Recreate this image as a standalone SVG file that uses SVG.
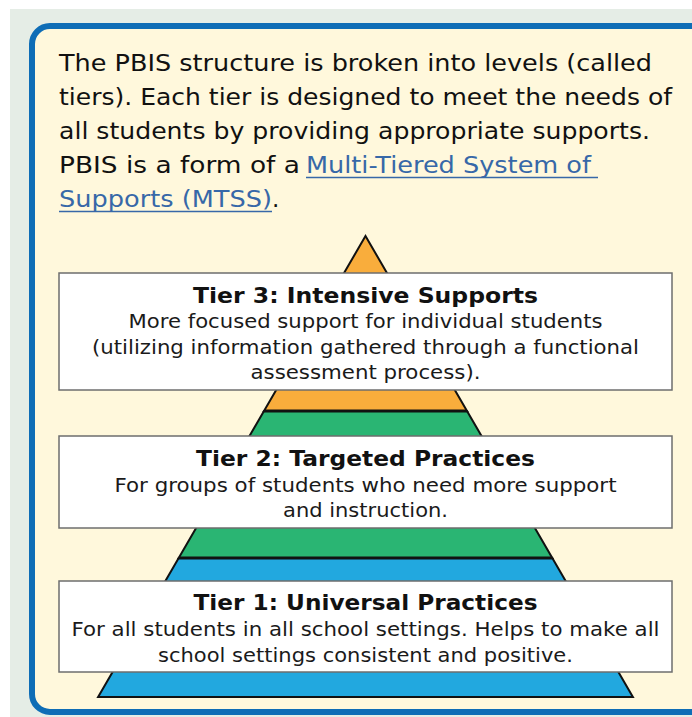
<svg xmlns="http://www.w3.org/2000/svg" width="692" height="717" viewBox="0 0 692 717">
  <style>
    text { font-family: "DejaVu Sans", Verdana, sans-serif; }
    .para { font-size: 23px; fill: #111; }
    .link { fill: #3768a8; }
    .title { font-size: 21.5px; font-weight: bold; fill: #111; text-anchor: middle; }
    .body { font-size: 19.5px; fill: #1a1a1a; text-anchor: middle; }
    .box { fill: #ffffff; stroke: #6e6e6e; stroke-width: 1.5; }
    .band { stroke: #111; stroke-width: 2; stroke-linejoin: miter; }
  </style>

  <!-- page backdrop -->
  <rect x="0" y="0" width="692" height="717" fill="#ffffff"/>
  <rect x="10" y="9" width="682" height="708" fill="#e5ede6"/>

  <!-- rounded panel -->
  <rect x="32" y="26" width="690" height="686" rx="18" ry="18" fill="#fff8dc" stroke="#0e6db6" stroke-width="6"/>

  <!-- intro paragraph -->
  <g id="intro">
    <text class="para" x="59" y="71" textLength="593" lengthAdjust="spacingAndGlyphs">The PBIS structure is broken into levels (called</text>
    <text class="para" x="59" y="105" textLength="613" lengthAdjust="spacingAndGlyphs">tiers). Each tier is designed to meet the needs of</text>
    <text class="para" x="59" y="139" textLength="591" lengthAdjust="spacingAndGlyphs">all students by providing appropriate supports.</text>
    <text class="para" x="59" y="173" textLength="241" lengthAdjust="spacingAndGlyphs">PBIS is a form of a</text>
    <text class="para link" x="306" y="173" textLength="285" lengthAdjust="spacingAndGlyphs">Multi-Tiered System of</text>
    <line x1="306" y1="177.5" x2="598" y2="177.5" stroke="#3768a8" stroke-width="1.5"/>
    <text class="para link" x="59" y="207" textLength="213" lengthAdjust="spacingAndGlyphs">Supports (MTSS)</text>
    <line x1="59" y1="211.5" x2="272" y2="211.5" stroke="#3768a8" stroke-width="1.5"/>
    <text class="para" x="272" y="207">.</text>
  </g>

  <!-- pyramid bands -->
  <g id="pyramid">
    <polygon class="band" fill="#22a8df" points="178.7,558 552.3,558 632.9,697 98.1,697"/>
    <polygon class="band" fill="#2ab573" points="264,411 467,411 552.3,558 178.7,558"/>
    <polygon class="band" fill="#f9ad3c" points="365.5,236 467,411 264,411"/>
    <line x1="264" y1="411" x2="467" y2="411" stroke="#111" stroke-width="3"/>
    <line x1="178.7" y1="558" x2="552.3" y2="558" stroke="#111" stroke-width="3"/>
  </g>

  <!-- tier 3 -->
  <g id="tier3">
    <rect class="box" x="59" y="273" width="613" height="117"/>
    <text class="title" x="365.5" y="303" textLength="345" lengthAdjust="spacingAndGlyphs">Tier 3: Intensive Supports</text>
    <text class="body" x="365.5" y="328" textLength="474" lengthAdjust="spacingAndGlyphs">More focused support for individual students</text>
    <text class="body" x="365.5" y="354" textLength="547" lengthAdjust="spacingAndGlyphs">(utilizing information gathered through a functional</text>
    <text class="body" x="365.5" y="379" textLength="230" lengthAdjust="spacingAndGlyphs">assessment process).</text>
  </g>

  <!-- tier 2 -->
  <g id="tier2">
    <rect class="box" x="59" y="436" width="613" height="92"/>
    <text class="title" x="365.5" y="466" textLength="339" lengthAdjust="spacingAndGlyphs">Tier 2: Targeted Practices</text>
    <text class="body" x="365.5" y="492" textLength="502" lengthAdjust="spacingAndGlyphs">For groups of students who need more support</text>
    <text class="body" x="365.5" y="517" textLength="165" lengthAdjust="spacingAndGlyphs">and instruction.</text>
  </g>

  <!-- tier 1 -->
  <g id="tier1">
    <rect class="box" x="59" y="581" width="613" height="91"/>
    <text class="title" x="365.5" y="610" textLength="344" lengthAdjust="spacingAndGlyphs">Tier 1: Universal Practices</text>
    <text class="body" x="365.5" y="636" textLength="588" lengthAdjust="spacingAndGlyphs">For all students in all school settings. Helps to make all</text>
    <text class="body" x="365.5" y="662" textLength="415" lengthAdjust="spacingAndGlyphs">school settings consistent and positive.</text>
  </g>
</svg>
